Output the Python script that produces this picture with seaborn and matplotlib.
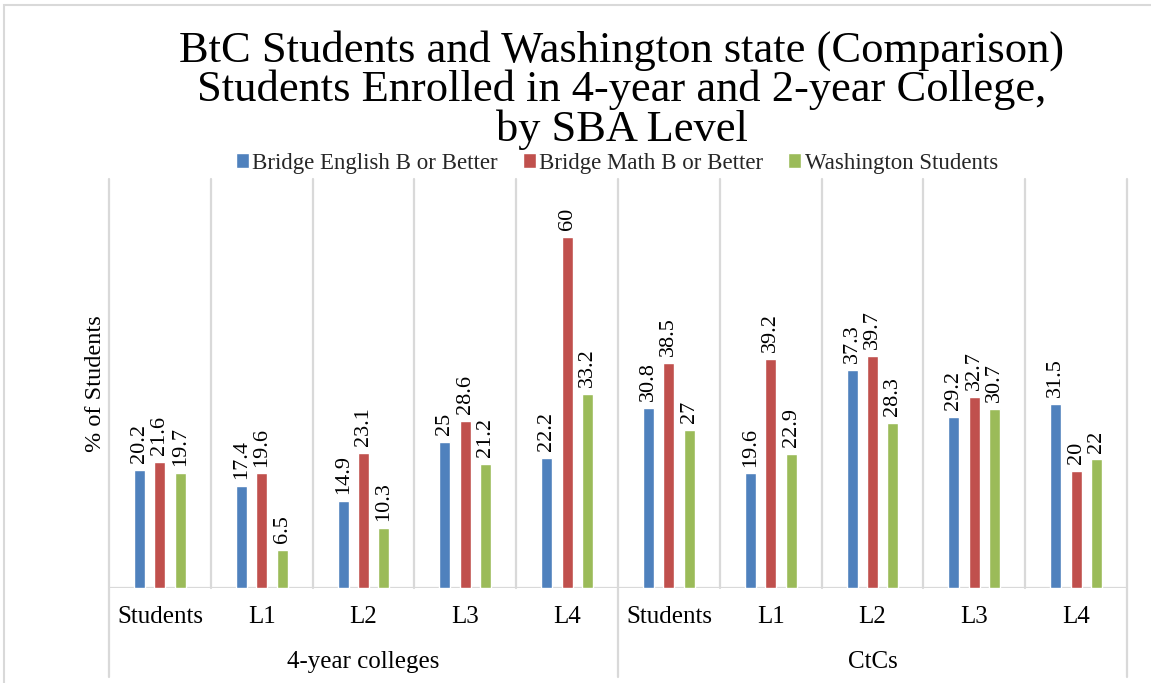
import matplotlib
matplotlib.use("Agg")
import matplotlib.pyplot as plt
import matplotlib.transforms as mtransforms
from matplotlib.patches import Rectangle
import seaborn as sns
import pandas as pd

groups = ["4-year colleges", "CtCs"]
levels = ["Students", "L1", "L2", "L3", "L4"]
series = ["Bridge English B or Better", "Bridge Math B or Better", "Washington Students"]
english = [20.2, 17.4, 14.9, 25, 22.2, 30.8, 19.6, 37.3, 29.2, 31.5]
math = [21.6, 19.6, 23.1, 28.6, 60, 38.5, 39.2, 39.7, 32.7, 20]
washington = [19.7, 6.5, 10.3, 21.2, 33.2, 27, 22.9, 28.3, 30.7, 22]
colors = ["#4F81BD", "#C0504D", "#9BBB59"]

cats = [f"{g}|{l}" for g in groups for l in levels]
rows = []
for name, vals in zip(series, [english, math, washington]):
    for c, v in zip(cats, vals):
        rows.append({"cat": c, "series": name, "value": v})
df = pd.DataFrame(rows)

sns.set_theme(style="white")
plt.rcParams["font.family"] = ["Liberation Serif", "DejaVu Serif"]

fig = plt.figure(figsize=(11.51, 6.83), dpi=100)
ax = fig.add_axes([109 / 1151, 1 - 588 / 683, (1127 - 109) / 1151, (588 - 179) / 683])

sns.barplot(data=df, x="cat", y="value", hue="series", order=cats, hue_order=series,
            palette=colors, width=0.6, gap=0.46, ax=ax, legend=True, saturation=1)

for cont in ax.containers:
    ax.bar_label(cont, labels=[f"{b.get_height():g}" for b in cont], rotation=90,
                 padding=5, fontsize=16, color="#000000")

ax.set_ylim(0, 70)
ax.set_xlim(-0.5, len(cats) - 0.5)
ax.set_yticks([])
ax.set_ylabel("% of Students", fontsize=17.5, color="#000000")
ax.yaxis.set_label_coords(-0.003, 0.5)
ax.set_xlabel("")
for s in ax.spines.values():
    s.set_visible(False)

grid_c = "#D9D9D9"
ax.axhline(0, color=grid_c, lw=1.6, zorder=0.5)
trans = mtransforms.blended_transform_factory(ax.transData, ax.transAxes)
for i in range(len(cats) + 1):
    x = i - 0.5
    if i in (0, len(levels), len(cats)):
        ax.plot([x, x], [-0.218, 1.0], color=grid_c, lw=1.6, transform=trans, clip_on=False, zorder=0.5)
    else:
        ax.plot([x, x], [0, 1.0], color=grid_c, lw=1.6, transform=trans, clip_on=False, zorder=0.5)

ax.set_xticks(range(len(cats)))
ax.set_xticklabels([c.split("|")[1] for c in cats], fontsize=18, color="#000000")
ax.tick_params(axis="x", length=0, pad=13)

for gi, g in enumerate(groups):
    xc = gi * len(levels) + (len(levels) - 1) / 2
    ax.text(xc, -0.18, g, transform=trans, ha="center", va="center", fontsize=18, color="#000000")

handles, labels = ax.get_legend_handles_labels()
ax.legend_.remove()
fig.legend(handles, labels, loc="center", bbox_to_anchor=(617 / 1151, 1 - 163 / 683), ncol=3,
           frameon=False, fontsize=16.5, handlelength=0.55, handleheight=0.6, handletextpad=0.15,
           columnspacing=1.1)

fig.text(622 / 1151, 1 - 90 / 683,
         "BtC Students and Washington state (Comparison)\nStudents Enrolled in 4-year and 2-year College,\nby SBA Level",
         ha="center", va="center", fontsize=32, linespacing=0.97, color="#000000")

fig.patches.append(Rectangle((4 / 1151, -0.01), 1.2, 1 - 5 / 683 + 0.01, transform=fig.transFigure,
                             fill=False, edgecolor=grid_c, lw=1.5))

fig.savefig("out.png", dpi=100, facecolor="white")
